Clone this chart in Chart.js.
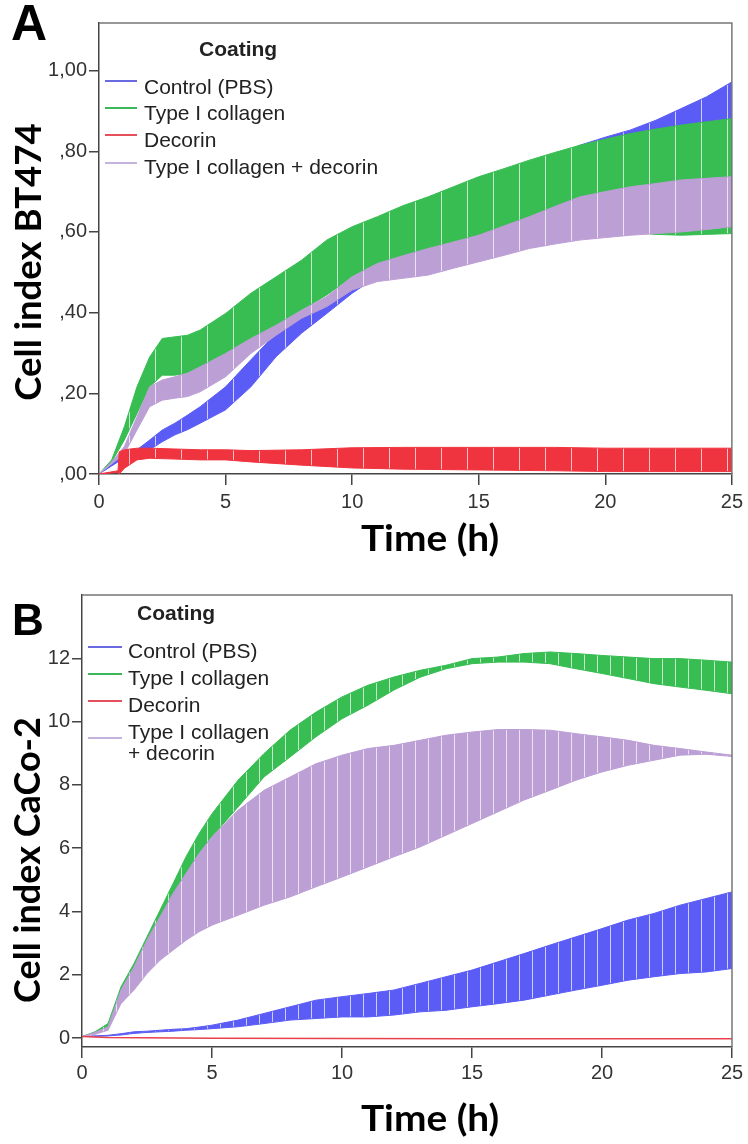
<!DOCTYPE html>
<html><head><meta charset="utf-8">
<script src="https://cdn.jsdelivr.net/npm/chart.js@4.4.0/dist/chart.umd.min.js"></script>
<style>
body{margin:0;background:#fff;width:748px;height:1144px;overflow:hidden;position:relative;font-family:'Liberation Sans',Arial,sans-serif;}
canvas{position:absolute;left:0;}
.txt{position:absolute;white-space:nowrap;font-size:21px;line-height:21px;color:#222;}
.ttl{position:absolute;white-space:nowrap;font:bold 36px Lato;line-height:36px;color:#000;transform-origin:50% 50%;}
.pl{position:absolute;white-space:nowrap;font-weight:bold;color:#000;}
.sw{position:absolute;height:2px;}
</style></head><body>
<canvas id="cA" width="748" height="570" style="top:0"></canvas>
<canvas id="cB" width="748" height="574" style="top:570px"></canvas>
<script>
// ---------------- DATA ----------------
const seriesNames = ['Control (PBS)', 'Type I collagen', 'Decorin', 'Type I collagen + decorin'];
const xTicks = [0, 5, 10, 15, 20, 25];
const yTicksA = [0, 0.2, 0.4, 0.6, 0.8, 1.0];
const yTickLabelsA = [',00', ',20', ',40', ',60', ',80', '1,00'];
const yTicksB = [0, 2, 4, 6, 8, 10, 12];
const yTickLabelsB = ['0', '2', '4', '6', '8', '10', '12'];

// Panel A (BT474) - upper / lower edges of the error band
const timeA = [0,0.5,1,1.5,2,2.5,3,3.5,4,5,6,7,8,9,10,11,12,13,14,15,16,17,18,19,20,21,22,23,24,25];
const controlA_hi = [0,0.025,0.05,0.06,0.084,0.109,0.126,0.146,0.167,0.216,0.283,0.349,0.39,0.431,0.481,0.52,0.56,0.60,0.64,0.68,0.72,0.76,0.79,0.815,0.835,0.853,0.877,0.906,0.935,0.972];
const controlA_lo = [0,0.02,0.04,0.045,0.06,0.08,0.097,0.11,0.126,0.159,0.216,0.291,0.349,0.398,0.448,0.49,0.53,0.56,0.59,0.61,0.63,0.65,0.665,0.68,0.69,0.70,0.71,0.72,0.73,0.74];
const collagenA_hi = [0,0.035,0.117,0.216,0.29,0.336,0.34,0.344,0.357,0.398,0.448,0.489,0.53,0.58,0.613,0.638,0.665,0.687,0.712,0.737,0.757,0.778,0.797,0.815,0.83,0.844,0.855,0.865,0.873,0.881];
const collagenA_lo = [0,0.03,0.084,0.15,0.216,0.245,0.245,0.25,0.254,0.283,0.324,0.365,0.406,0.444,0.489,0.522,0.54,0.555,0.575,0.592,0.605,0.612,0.618,0.622,0.622,0.6,0.594,0.592,0.594,0.596];
const comboA_hi = [0,0.03,0.068,0.142,0.216,0.233,0.241,0.25,0.266,0.299,0.336,0.369,0.406,0.44,0.489,0.522,0.541,0.559,0.575,0.592,0.615,0.638,0.663,0.687,0.70,0.712,0.72,0.729,0.733,0.737];
const comboA_lo = [0,0.025,0.05,0.109,0.167,0.183,0.188,0.192,0.204,0.241,0.299,0.344,0.386,0.415,0.456,0.477,0.485,0.493,0.51,0.526,0.542,0.559,0.57,0.58,0.586,0.592,0.596,0.60,0.606,0.613];
const timeDecorinA = [0,0.75,0.8,1,1.5,2,3,4,5,6,8,10,12,15,18,20,22,25];
const decorinA_hi = [0,0.008,0.055,0.06,0.064,0.064,0.062,0.06,0.06,0.058,0.06,0.065,0.066,0.066,0.066,0.064,0.064,0.064];
const decorinA_lo = [0,0.004,0,0.014,0.035,0.039,0.037,0.035,0.035,0.03,0.022,0.015,0.012,0.01,0.008,0.006,0.006,0.006];

// Panel B (CaCo-2)
const timeB = [0,0.5,1,1.5,2,2.5,3,3.5,4,4.5,5,6,7,8,9,10,11,12,13,14,15,16,17,18,19,20,21,22,23,24,25];
const controlB_hi = [0.05,0.07,0.09,0.14,0.2,0.22,0.25,0.28,0.3,0.35,0.41,0.57,0.78,0.99,1.2,1.31,1.41,1.52,1.73,1.94,2.15,2.41,2.67,2.94,3.2,3.46,3.73,3.94,4.2,4.41,4.62];
const controlB_lo = [0.05,0.06,0.07,0.1,0.15,0.18,0.2,0.22,0.25,0.27,0.3,0.36,0.46,0.57,0.62,0.67,0.67,0.73,0.83,0.88,0.99,1.09,1.2,1.36,1.52,1.67,1.83,1.94,2.04,2.09,2.2];
const collagenB_hi = [0.05,0.2,0.46,1.62,2.36,3.2,4.04,4.88,5.73,6.46,7.09,8.15,8.99,9.73,10.3,10.78,11.15,11.41,11.62,11.78,11.99,12.04,12.15,12.2,12.15,12.09,12.04,11.99,11.99,11.94,11.88];
const collagenB_lo = [0.05,0.15,0.3,1.3,2.15,2.78,3.62,4.36,5.09,5.73,6.36,7.3,8.25,8.88,9.52,10.09,10.52,11.0,11.4,11.67,11.83,11.88,11.88,11.83,11.67,11.52,11.36,11.2,11.09,10.99,10.88];
const comboB_hi = [0.05,0.18,0.36,1.52,2.25,3.1,3.83,4.57,5.2,5.83,6.36,7.2,7.83,8.25,8.67,8.94,9.15,9.25,9.41,9.57,9.67,9.75,9.75,9.73,9.62,9.52,9.41,9.25,9.15,9.04,8.94];
const comboB_lo = [0.05,0.12,0.25,1.09,1.52,2.04,2.46,2.78,3.09,3.36,3.57,3.88,4.2,4.46,4.78,5.09,5.41,5.73,6.04,6.41,6.78,7.15,7.52,7.83,8.15,8.41,8.62,8.78,8.94,8.97,8.9];
const timeDecorinB = [0,1,5,10,15,20,25];
const decorinB = [0.05,0.02,0.0,-0.01,-0.02,-0.02,-0.02];

// ---------------- STYLE ----------------
const COL = {blue:'#5b5cf5', green:'#38bd52', red:'#f0343f', purple:'#bc9fd5'};
const LEG = ['#6a6ae0', '#3db75a', '#e4505c', '#c4b3dc'];

function stripe(color, period){
  const c = document.createElement('canvas'); c.width = period; c.height = 8;
  const x = c.getContext('2d'); x.fillStyle = color; x.fillRect(0,0,period,8);
  x.fillStyle = 'rgba(255,255,255,0.7)'; x.fillRect(period-1,0,1,8);
  return x.createPattern(c, 'repeat');
}
function pts(t, v){ return t.map((x,i)=>({x:x, y:v[i]})); }
function band(t, hi, lo, color, pattern, order){
  return [
    {data:pts(t,hi), borderColor:color, borderWidth:1, pointRadius:0, fill:false, order:order},
    {data:pts(t,lo), borderColor:color, borderWidth:1, pointRadius:0, fill:'-1', backgroundColor:pattern, order:order}
  ];
}
const boxPlugin = {id:'box', afterDraw(chart){
  const {ctx, chartArea:a} = chart; ctx.save();
  ctx.strokeStyle = '#777'; ctx.lineWidth = 1.5; ctx.beginPath();
  ctx.moveTo(a.left, a.top); ctx.lineTo(a.right, a.top); ctx.lineTo(a.right, a.bottom); ctx.stroke();
  ctx.restore();
}};

Chart.defaults.font.family = "'Liberation Sans', Arial, sans-serif";
Chart.defaults.color = '#333';

function makeChart(id, datasets, yMin, yMax, yVals, yLabels, yW, xH, padTop, xPad){
  return new Chart(document.getElementById(id), {
    type:'line',
    data:{datasets:datasets},
    options:{
      responsive:false, animation:false, events:[],
      layout:{padding:{top:padTop, right:16, left:0, bottom:0}},
      plugins:{legend:{display:false}, tooltip:{enabled:false}},
      elements:{line:{tension:0}},
      scales:{
        x:{type:'linear', min:0, max:25,
           afterBuildTicks:s=>{s.ticks = xTicks.map(v=>({value:v}));},
           afterFit:s=>{s.height = xH;},
           ticks:{font:{size:20}, padding:xPad, autoSkip:false, maxRotation:0, callback:v=>String(v)},
           grid:{drawOnChartArea:false, drawTicks:true, tickLength:11, color:'#444', lineWidth:1.5},
           border:{display:true, color:'#444', width:1.5}},
        y:{type:'linear', min:yMin, max:yMax,
           afterBuildTicks:s=>{s.ticks = yVals.map(v=>({value:v}));},
           afterFit:s=>{s.width = yW;},
           ticks:{font:{size:20}, padding:2, autoSkip:false, callback:(v)=>{const i = yVals.indexOf(v); return i>=0 ? yLabels[i] : '';}},
           grid:{drawOnChartArea:false, drawTicks:true, tickLength:10, color:'#444', lineWidth:1.5},
           border:{display:true, color:'#444', width:1.5}}
      }
    },
    plugins:[boxPlugin]
  });
}

const pA = 26, pB = 13;
const dsA = [].concat(
  band(timeA, controlA_hi, controlA_lo, COL.blue, stripe(COL.blue,pA), 4),
  band(timeA, collagenA_hi, collagenA_lo, COL.green, stripe(COL.green,pA), 3),
  band(timeA, comboA_hi, comboA_lo, COL.purple, stripe(COL.purple,pA), 2),
  band(timeDecorinA, decorinA_hi, decorinA_lo, COL.red, stripe(COL.red,pA), 1)
);
makeChart('cA', dsA, 0, 1.118, yTicksA, yTickLabelsA, 99, 96, 23, 5);

const dsB = [].concat(
  band(timeB, controlB_hi, controlB_lo, COL.blue, stripe(COL.blue,pB), 4),
  band(timeB, collagenB_hi, collagenB_lo, COL.green, stripe(COL.green,pB), 3),
  band(timeB, comboB_hi, comboB_lo, COL.purple, stripe(COL.purple,pB), 2),
  [{data:pts(timeDecorinB, decorinB), borderColor:'#e8404c', borderWidth:1.5, pointRadius:0, fill:false, order:1}]
);
makeChart('cB', dsB, -0.28, 14, yTicksB, yTickLabelsB, 82, 97, 25, 3);

// ---------------- TEXT ----------------
function addDiv(cls, text, left, top, extra){
  const d = document.createElement('div'); d.className = cls; d.textContent = text;
  d.style.left = left + 'px'; d.style.top = top + 'px';
  if (extra) Object.assign(d.style, extra);
  document.body.appendChild(d); return d;
}
function title(text, cx, cy, rot, len){
  const d = addDiv('ttl', text, 0, 0);
  const w = d.offsetWidth; const k = len ? len / w : 1;
  d.style.left = (cx - w/2) + 'px'; d.style.top = (cy - 18) + 'px';
  d.style.transform = (rot ? 'rotate(-90deg) ' : '') + 'scaleX(' + k + ')';
}
// panel letters
addDiv('pl', 'A', 11, -2.3, {fontSize:'50px', lineHeight:'50px'});
addDiv('pl', 'B', 12, 597.8, {fontSize:'44px', lineHeight:'44px'});
// axis titles
title('Cell index BT474', 26, 261.5, true, 277);
title('Time (h)', 430, 537, false, 138);
title('Cell index CaCo-2', 26, 860, true, 286);
title('Time (h)', 430, 1117, false, 138);
// legends
function legend(x0, lineX0, lineX1, coatY, textX, textYs, lineYs, names){
  addDiv('txt', 'Coating', x0, coatY - 10.5, {fontWeight:'bold'});
  names.forEach((n, i)=>{
    addDiv('txt', n, textX, textYs[i] - 10.5, {lineHeight:'21px'});
    const s = document.createElement('div'); s.className = 'sw';
    Object.assign(s.style, {left:lineX0+'px', width:(lineX1-lineX0)+'px', top:(lineYs[i]-1)+'px', background:LEG[i]});
    document.body.appendChild(s);
  });
}
legend(199, 105, 137, 48, 144, [86,112,139,166], [81,108,135,163], seriesNames);
const namesB = ['Control (PBS)', 'Type I collagen', 'Decorin', 'Type I collagen'];
legend(137, 88, 122, 612, 128, [650,677,704,731], [647,674,701,738], namesB);
addDiv('txt', '+ decorin', 128, 752 - 10.5);
</script>
</body></html>
